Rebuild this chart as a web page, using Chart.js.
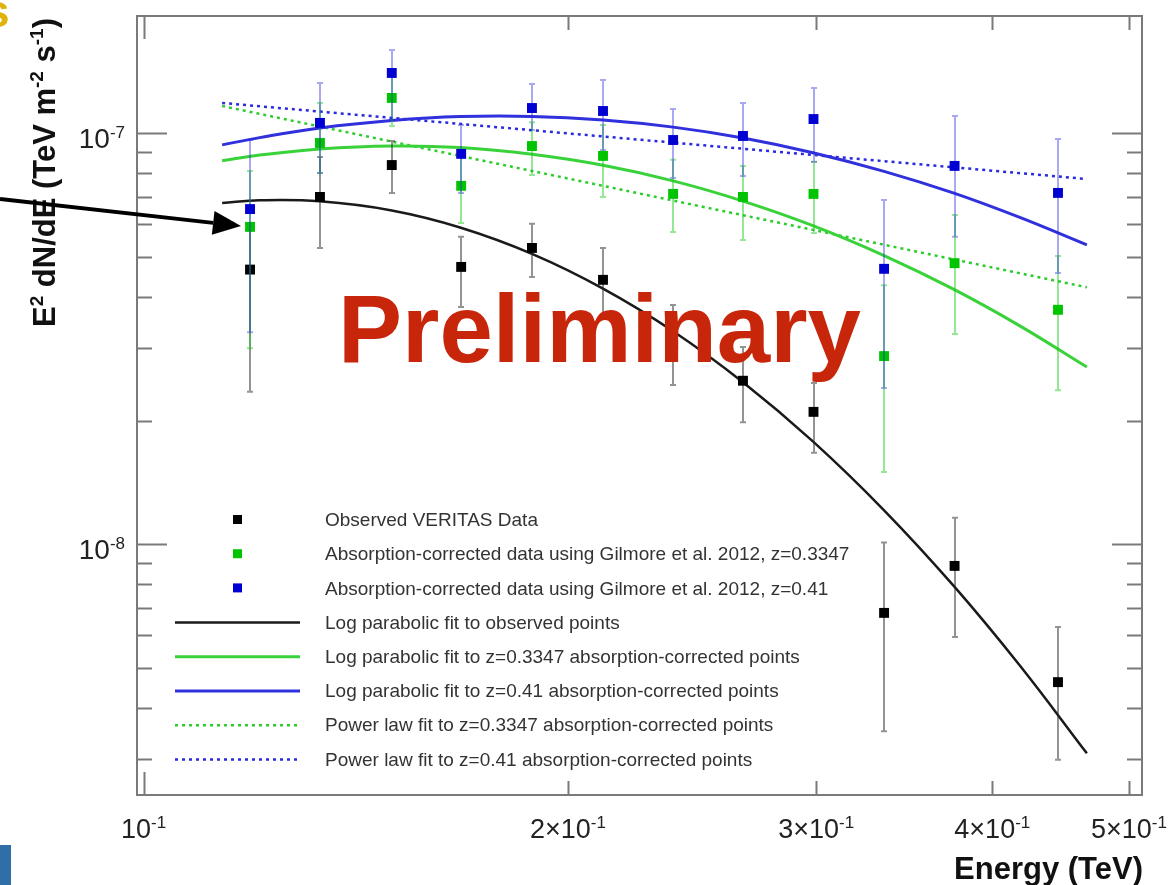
<!DOCTYPE html>
<html>
<head>
<meta charset="utf-8">
<script src="https://cdn.jsdelivr.net/npm/chart.js@4.4.1/dist/chart.umd.min.js"></script>
<style>
  html, body { margin: 0; padding: 0; background: #fff; }
  #wrap { position: relative; width: 1176px; height: 885px; overflow: hidden; }
</style>
</head>
<body>
<div id="wrap"><canvas id="sed" width="1176" height="885"></canvas></div>
<script>
// energy bins (TeV) of the VERITAS spectrum
const energy = [0.119, 0.1334, 0.15, 0.168, 0.1886, 0.2118, 0.2375, 0.2662, 0.2987, 0.3352, 0.3761, 0.4453];

// E^2 dN/dE, observed
const observed = [4.66e-8, 7.0e-8, 8.37e-8, 4.73e-8, 5.26e-8, 4.4e-8, 3.05e-8, 2.5e-8, 2.1e-8, 6.81e-9, 8.86e-9, 4.62e-9];
const observedLow = [2.35e-8, 5.26e-8, 7.16e-8, 3.78e-8, 4.47e-8, 3.61e-8, 2.44e-8, 1.98e-8, 1.67e-8, 3.51e-9, 5.95e-9, 2.99e-9];
const observedHigh = [5.8e-8, 8.76e-8, 9.58e-8, 5.6e-8, 6.02e-8, 5.26e-8, 3.82e-8, 3.02e-8, 2.47e-8, 1.01e-8, 1.16e-8, 6.29e-9];

// absorption corrected, z = 0.3347
const corrGreen = [5.92e-8, 9.47e-8, 1.219e-7, 7.45e-8, 9.31e-8, 8.81e-8, 7.12e-8, 7.0e-8, 7.12e-8, 2.87e-8, 4.83e-8, 3.72e-8];
const corrGreenLow = [3.0e-8, 8.0e-8, 1.042e-7, 6.05e-8, 7.92e-8, 7.0e-8, 5.75e-8, 5.5e-8, 5.72e-8, 1.5e-8, 3.25e-8, 2.37e-8];
const corrGreenHigh = [8.1e-8, 1.185e-7, 1.43e-7, 9.1e-8, 1.064e-7, 1.048e-7, 8.62e-8, 8.32e-8, 8.51e-8, 4.27e-8, 6.33e-8, 5.03e-8];

// absorption corrected, z = 0.41
const corrBlue = [6.54e-8, 1.06e-7, 1.402e-7, 8.91e-8, 1.152e-7, 1.133e-7, 9.63e-8, 9.85e-8, 1.083e-7, 4.68e-8, 8.33e-8, 7.16e-8];
const corrBlueLow = [3.28e-8, 8.0e-8, 1.077e-7, 7.16e-8, 1.019e-7, 9.11e-8, 7.78e-8, 7.87e-8, 8.52e-8, 2.4e-8, 5.6e-8, 4.57e-8];
const corrBlueHigh = [9.63e-8, 1.325e-7, 1.595e-7, 1.048e-7, 1.318e-7, 1.348e-7, 1.146e-7, 1.185e-7, 1.289e-7, 6.88e-8, 1.102e-7, 9.69e-8];

// fitted curves, sampled along the fit range
const fitEnergy = [0.1137, 0.1209, 0.1334, 0.15, 0.1677, 0.1886, 0.2118, 0.2375, 0.2662, 0.2984, 0.3352, 0.3757, 0.4184, 0.4668];
const logParObserved = [6.77e-8, 6.87e-8, 6.83e-8, 6.49e-8, 5.9e-8, 5.09e-8, 4.19e-8, 3.3e-8, 2.48e-8, 1.78e-8, 1.21e-8, 7.91e-9, 5.07e-9, 3.1e-9];
const logParGreen = [8.57e-8, 8.85e-8, 9.16e-8, 9.31e-8, 9.23e-8, 8.89e-8, 8.36e-8, 7.66e-8, 6.84e-8, 5.96e-8, 5.04e-8, 4.17e-8, 3.4e-8, 2.7e-8];
const logParBlue = [9.37e-8, 9.76e-8, 1.03e-7, 1.074e-7, 1.098e-7, 1.099e-7, 1.077e-7, 1.035e-7, 9.74e-8, 8.97e-8, 8.08e-8, 7.15e-8, 6.24e-8, 5.35e-8];
const powerEnergy = [0.1137, 0.4668];
const powerGreen = [1.165e-7, 4.22e-8];
const powerBlue = [1.185e-7, 7.74e-8];

// axes
const xRange = [0.09894, 0.5108];
const yRange = [2.455e-9, 1.929e-7];
const xTicks = [0.1, 0.2, 0.3, 0.4, 0.5];
const xTickLabels = ['10^-1', '2×10^-1', '3×10^-1', '4×10^-1', '5×10^-1'];
const yTicks = [1e-8, 1e-7];
const yTickLabels = ['10^-8', '10^-7'];
const yMinorTicks = [3e-9, 4e-9, 5e-9, 6e-9, 7e-9, 8e-9, 9e-9, 2e-8, 3e-8, 4e-8, 5e-8, 6e-8, 7e-8, 8e-8, 9e-8];

const FONT = '"Liberation Sans", Arial, Helvetica, sans-serif';

const pts = (xs, ys) => xs.map((x, i) => ({ x: x, y: ys[i] }));

const datasets = [
  {
    label: 'Observed VERITAS Data',
    data: pts(energy, observed),
    errLow: observedLow, errHigh: observedHigh, errColor: 'rgba(40,40,40,0.5)',
    showLine: false, pointStyle: 'rect', pointRadius: 7, pointHoverRadius: 7,
    backgroundColor: '#000', borderColor: '#000', borderWidth: 0, order: 2,
  },
  {
    label: 'Absorption-corrected data using Gilmore et al. 2012, z=0.3347',
    data: pts(energy, corrGreen),
    errLow: corrGreenLow, errHigh: corrGreenHigh, errColor: 'rgba(20,200,20,0.45)',
    showLine: false, pointStyle: 'rect', pointRadius: 7, pointHoverRadius: 7,
    backgroundColor: '#00c400', borderColor: '#00c400', borderWidth: 0, order: 1,
  },
  {
    label: 'Absorption-corrected data using Gilmore et al. 2012, z=0.41',
    data: pts(energy, corrBlue),
    errLow: corrBlueLow, errHigh: corrBlueHigh, errColor: 'rgba(40,40,225,0.4)',
    showLine: false, pointStyle: 'rect', pointRadius: 7, pointHoverRadius: 7,
    backgroundColor: '#0000d2', borderColor: '#0000d2', borderWidth: 0, order: 0,
  },
  {
    label: 'Log parabolic fit to observed points',
    data: pts(fitEnergy, logParObserved),
    showLine: true, pointRadius: 0, borderColor: '#1a1a1a', borderWidth: 2.5,
    tension: 0.4, order: 3,
  },
  {
    label: 'Log parabolic fit to z=0.3347 absorption-corrected points',
    data: pts(fitEnergy, logParGreen),
    showLine: true, pointRadius: 0, borderColor: '#3ad23a', borderWidth: 3,
    tension: 0.4, order: 4,
  },
  {
    label: 'Log parabolic fit to z=0.41 absorption-corrected points',
    data: pts(fitEnergy, logParBlue),
    showLine: true, pointRadius: 0, borderColor: '#3030dc', borderWidth: 3,
    tension: 0.4, order: 5,
  },
  {
    label: 'Power law fit to z=0.3347 absorption-corrected points',
    data: pts(powerEnergy, powerGreen),
    showLine: true, pointRadius: 0, borderColor: '#2ccc2c', borderWidth: 2.5,
    borderDash: [3, 4], order: 6,
  },
  {
    label: 'Power law fit to z=0.41 absorption-corrected points',
    data: pts(powerEnergy, powerBlue),
    showLine: true, pointRadius: 0, borderColor: '#2a2ae0', borderWidth: 2.5,
    borderDash: [3, 4], order: 7,
  },
];

// vertical error bars with small caps, drawn under each marker set
const errorBars = {
  id: 'errorBars',
  beforeDatasetDraw(chart, args) {
    const ds = chart.data.datasets[args.index];
    if (!ds.errLow) return;
    const { ctx } = chart;
    const x = chart.scales.x, y = chart.scales.y;
    ctx.save();
    ctx.strokeStyle = ds.errColor;
    ctx.lineWidth = 2;
    ctx.beginPath();
    ds.data.forEach((p, i) => {
      const px = Math.round(x.getPixelForValue(p.x));
      const lo = y.getPixelForValue(ds.errLow[i]);
      const hi = y.getPixelForValue(ds.errHigh[i]);
      ctx.moveTo(px, lo); ctx.lineTo(px, hi);
      ctx.moveTo(px - 3, lo); ctx.lineTo(px + 3, lo);
      ctx.moveTo(px - 3, hi); ctx.lineTo(px + 3, hi);
    });
    ctx.stroke();
    ctx.restore();
  },
};

// text with a raised exponent after '^'
function sciText(ctx, text, x, y, align, size, bold) {
  const parts = text.split('^');
  const w = bold ? 'bold ' : '';
  const sup = Math.round(size * 0.62);
  ctx.font = w + size + 'px ' + FONT;
  const wb = ctx.measureText(parts[0]).width;
  ctx.font = w + sup + 'px ' + FONT;
  const we = parts[1] ? ctx.measureText(parts[1]).width : 0;
  const total = wb + we;
  let x0 = x;
  if (align === 'center') x0 = x - total / 2;
  if (align === 'right') x0 = x - total;
  ctx.textAlign = 'left';
  ctx.textBaseline = 'alphabetic';
  ctx.font = w + size + 'px ' + FONT;
  ctx.fillText(parts[0], x0, y);
  if (parts[1]) {
    ctx.font = w + sup + 'px ' + FONT;
    ctx.fillText(parts[1], x0 + wb, y - size * 0.37);
  }
}

// runs of [text, isSuperscript], laid out left to right
function richText(ctx, runs, size, alignRight) {
  const sup = Math.round(size * 0.62);
  const font = (s) => 'bold ' + s + 'px ' + FONT;
  let total = 0;
  runs.forEach(([t, s]) => { ctx.font = font(s ? sup : size); total += ctx.measureText(t).width; });
  let cx = alignRight ? -total : 0;
  ctx.textAlign = 'left';
  ctx.textBaseline = 'alphabetic';
  runs.forEach(([t, s]) => {
    ctx.font = font(s ? sup : size);
    ctx.fillText(t, cx, s ? -size * 0.4 : 0);
    cx += ctx.measureText(t).width;
  });
}

const frameAndAxes = {
  id: 'frameAndAxes',
  afterDraw(chart) {
    const { ctx, chartArea: a } = chart;
    const x = chart.scales.x, y = chart.scales.y;
    ctx.save();

    // frame
    ctx.strokeStyle = '#7a7a7a';
    ctx.lineWidth = 2;
    ctx.strokeRect(a.left, a.top, a.right - a.left, a.bottom - a.top);

    // ticks on all four sides
    ctx.beginPath();
    xTicks.forEach((v, i) => {
      const px = Math.round(x.getPixelForValue(v)) + 0.5;
      const len = i === 0 ? 23 : 14;
      ctx.moveTo(px, a.bottom); ctx.lineTo(px, a.bottom - len);
      ctx.moveTo(px, a.top); ctx.lineTo(px, a.top + len);
    });
    yTicks.forEach((v) => {
      const py = Math.round(y.getPixelForValue(v)) + 0.5;
      ctx.moveTo(a.left, py); ctx.lineTo(a.left + 30, py);
      ctx.moveTo(a.right, py); ctx.lineTo(a.right - 30, py);
    });
    yMinorTicks.forEach((v) => {
      const py = Math.round(y.getPixelForValue(v)) + 0.5;
      ctx.moveTo(a.left, py); ctx.lineTo(a.left + 15, py);
      ctx.moveTo(a.right, py); ctx.lineTo(a.right - 15, py);
    });
    ctx.stroke();

    // tick labels
    ctx.fillStyle = '#222';
    xTicks.forEach((v, i) => {
      sciText(ctx, xTickLabels[i], x.getPixelForValue(v), a.bottom + 43, 'center', 27, false);
    });
    yTicks.forEach((v, i) => {
      sciText(ctx, yTickLabels[i], a.left - 12, y.getPixelForValue(v) + 15, 'right', 28, false);
    });

    // axis titles
    ctx.fillStyle = '#111';
    ctx.font = 'bold 31px ' + FONT;
    ctx.textAlign = 'right';
    ctx.fillText('Energy (TeV)', a.right + 1, 879);

    ctx.save();
    ctx.translate(55, 18);
    ctx.rotate(-Math.PI / 2);
    richText(ctx, [['E', 0], ['2', 1], [' dN/dE (TeV m', 0], ['-2', 1], [' s', 0], ['-1', 1], [')', 0]], 31, true);
    ctx.restore();

    ctx.restore();
  },
};

// legend box inside the frame, one row per dataset
const legendBox = {
  id: 'legendBox',
  afterDraw(chart) {
    const { ctx } = chart;
    ctx.save();
    chart.data.datasets.forEach((ds, i) => {
      const cy = 520 + i * 34.2;
      if (ds.showLine) {
        ctx.strokeStyle = ds.borderColor;
        ctx.lineWidth = ds.borderWidth;
        ctx.setLineDash(ds.borderDash || []);
        ctx.beginPath();
        ctx.moveTo(175, cy); ctx.lineTo(300, cy);
        ctx.stroke();
        ctx.setLineDash([]);
      } else {
        ctx.fillStyle = ds.backgroundColor;
        ctx.fillRect(233, cy - 5, 9, 9);
      }
      ctx.fillStyle = '#333';
      ctx.font = '19px ' + FONT;
      ctx.textAlign = 'left';
      ctx.textBaseline = 'middle';
      ctx.fillText(ds.label, 325, cy + 1);
    });
    ctx.restore();
  },
};

// slide overlays: watermark, pointer arrow and page edge marks
const overlay = {
  id: 'overlay',
  afterDraw(chart) {
    const { ctx } = chart;
    ctx.save();

    ctx.fillStyle = 'rgb(200,38,10)';
    ctx.font = 'bold 96px ' + FONT;
    ctx.textAlign = 'left';
    ctx.textBaseline = 'alphabetic';
    ctx.fillText('Preliminary', 338, 362);

    // arrow from the left edge towards the first bin
    const x0 = 0, y0 = 199, x1 = 241, y1 = 226;
    const ang = Math.atan2(y1 - y0, x1 - x0);
    const hl = 28, hw = 12;
    const bx = x1 - hl * Math.cos(ang), by = y1 - hl * Math.sin(ang);
    ctx.strokeStyle = '#000';
    ctx.lineWidth = 4;
    ctx.beginPath();
    ctx.moveTo(x0, y0); ctx.lineTo(bx, by);
    ctx.stroke();
    ctx.fillStyle = '#000';
    ctx.beginPath();
    ctx.moveTo(x1, y1);
    ctx.lineTo(bx + hw * Math.sin(ang), by - hw * Math.cos(ang));
    ctx.lineTo(bx - hw * Math.sin(ang), by + hw * Math.cos(ang));
    ctx.closePath();
    ctx.fill();

    ctx.fillStyle = '#e0b20a';
    ctx.font = 'bold 46px ' + FONT;
    ctx.fillText('s', -16, 27);

    ctx.fillStyle = '#2f6ea6';
    ctx.fillRect(0, 845, 11, 40);

    ctx.restore();
  },
};

new Chart(document.getElementById('sed'), {
  type: 'scatter',
  data: { datasets: datasets },
  options: {
    responsive: false,
    animation: false,
    layout: { padding: { left: 137, top: 16, right: 34, bottom: 90 } },
    plugins: { legend: { display: false }, tooltip: { enabled: false } },
    scales: {
      x: { type: 'logarithmic', min: xRange[0], max: xRange[1], display: false },
      y: { type: 'logarithmic', min: yRange[0], max: yRange[1], display: false },
    },
  },
  plugins: [errorBars, frameAndAxes, legendBox, overlay],
});
</script>
</body>
</html>
